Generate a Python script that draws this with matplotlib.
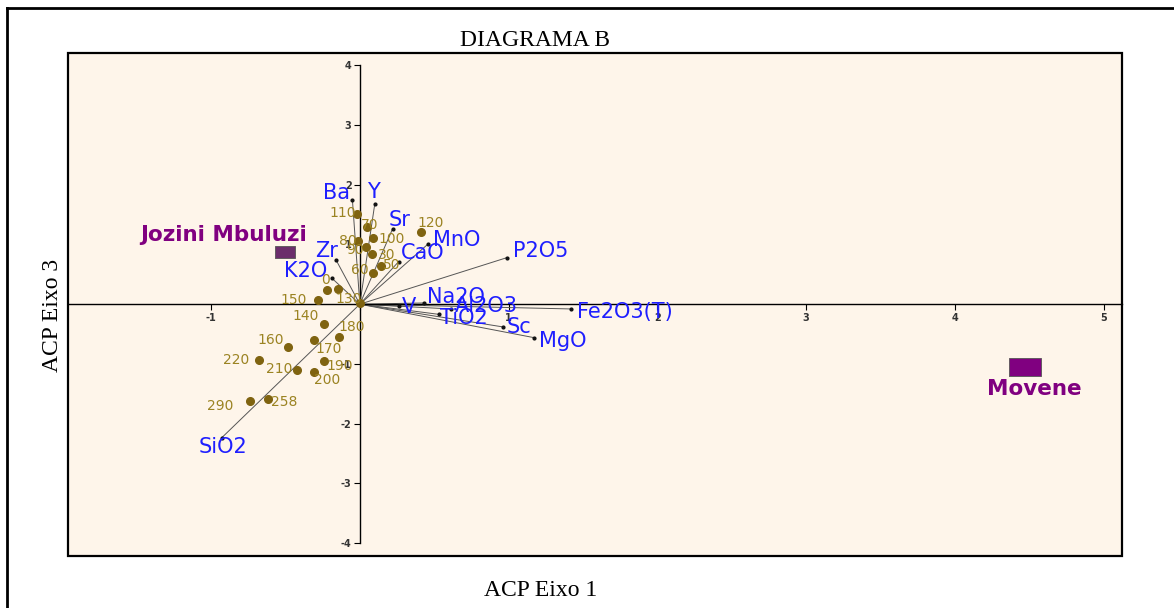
#! /usr/bin/env python
import matplotlib
matplotlib.use("Agg")
import matplotlib.pyplot as plt
from matplotlib.lines import Line2D
from matplotlib.patches import Rectangle
from matplotlib.ticker import FuncFormatter

# samples (PCA scores)
sample_names = ["110", "70", "100", "80", "90", "30", "50", "60", "120", "0", "",
                "150", "130", "140", "180", "160", "170", "220", "190", "210",
                "200", "290", "258"]
sample_x = [-0.02, 0.05, 0.09, -0.01, 0.04, 0.08, 0.14, 0.09, 0.41, -0.22, -0.15,
            -0.28, 0.00, -0.24, -0.14, -0.48, -0.31, -0.68, -0.24, -0.42,
            -0.31, -0.74, -0.62]
sample_y = [1.51, 1.30, 1.11, 1.05, 0.96, 0.84, 0.64, 0.53, 1.21, 0.24, 0.26,
            0.07, 0.02, -0.33, -0.55, -0.71, -0.60, -0.93, -0.95, -1.10,
            -1.13, -1.62, -1.59]

# variables (loadings)
var_names = ["Ba", "Y", "Sr", "MnO", "CaO", "Zr", "K2O", "P2O5", "Na2O", "Al2O3",
             "Fe2O3(T)", "V", "TiO2", "Sc", "MgO", "SiO2"]
var_x = [-0.05, 0.10, 0.22, 0.46, 0.26, -0.16, -0.19, 0.99, 0.43, 0.61,
         1.42, 0.26, 0.53, 0.96, 1.17, -0.93]
var_y = [1.75, 1.67, 1.26, 1.01, 0.71, 0.74, 0.44, 0.78, 0.02, -0.08,
         -0.08, -0.03, -0.17, -0.38, -0.56, -2.24]

# group centroids
group_names = ["Jozini Mbuluzi", "Movene"]
group_x = [-0.50, 4.47]
group_y = [0.88, -1.05]

# label offsets in pixels (dx, dy)
sample_off = [(-14, 1), (2, 2), (18, -1), (-11, 0), (-11, -3), (15, -1), (11, 1),
              (-13, 3), (10, 9), (-2, 10), (0, 0), (-25, 0), (-11, 4), (-19, 8),
              (13, 10), (-18, 7), (15, -9), (-23, 0), (16, -5), (-18, 1),
              (13, -8), (-30, -5), (17, -3)]
var_off = [(-16, 7), (-1, 12), (7, 9), (28, 4), (24, 9), (-9, 9), (-26, 7),
           (34, 7), (32, 6), (36, 3), (54, -3), (10, -1), (25, -4), (16, 0),
           (29, -3), (1, -9)]
group_off = [(-62, 17), (10, -22)]
group_size = [14.5, 22.5]
group_color = ["#6b2d6b", "#800080"]

fig = plt.figure(figsize=(11.74, 6.08), dpi=100)
ax = fig.add_axes([68 / 1174, 1 - 556 / 608, (1122 - 68) / 1174, (556 - 53) / 608])
ax.set_facecolor("#fef5ea")
ax.set_xlim(-1.962, 5.124)
ax.set_ylim(-4.216, 4.205)

for s in ["top", "right"]:
    ax.spines[s].set_visible(False)
ax.spines["left"].set_position(("data", 0))
ax.spines["bottom"].set_position(("data", 0))
ax.spines["left"].set_bounds(-4, 4)
ax.spines["left"].set_linewidth(1.0)
ax.spines["bottom"].set_linewidth(1.0)
ax.set_xticks([-1, 0, 1, 2, 3, 4, 5])
ax.set_yticks([-4, -3, -2, -1, 0, 1, 2, 3, 4])
fmt = FuncFormatter(lambda v, p: "" if v == 0 else f"{v:g}")
ax.xaxis.set_major_formatter(fmt)
ax.yaxis.set_major_formatter(fmt)
ax.tick_params(direction="out", length=4, width=0.8, labelsize=7,
               labelcolor="#333333", pad=2)
for lab in ax.get_xticklabels() + ax.get_yticklabels():
    lab.set_fontweight("bold")

ax.add_patch(Rectangle((0, 0), 1, 1, transform=ax.transAxes, fill=False,
                       lw=1.6, ec="black", clip_on=False, zorder=10))

# vectors
for name, x, y, off in zip(var_names, var_x, var_y, var_off):
    ax.plot([0, x], [0, y], color="#555555", lw=0.7, zorder=2)
    ax.plot(x, y, "o", color="#111111", ms=2, zorder=3)
    ax.annotate(name, (x, y), xytext=off, textcoords="offset pixels",
                ha="center", va="center", color="#1e1eff", fontsize=15, zorder=5)

# samples
ax.plot(sample_x, sample_y, "o", color="#7f6310", ms=5.5, ls="none", zorder=4)
for name, x, y, off in zip(sample_names, sample_x, sample_y, sample_off):
    if name:
        ax.annotate(name, (x, y), xytext=off, textcoords="offset pixels",
                    ha="center", va="center", color="#9b8322", fontsize=10, zorder=5)

# group markers
rect = [(-1, -0.58), (1, -0.58), (1, 0.58), (-1, 0.58), (-1, -0.58)]
for name, x, y, off, sz, c in zip(group_names, group_x, group_y, group_off,
                                  group_size, group_color):
    ax.plot(x, y, marker=rect, ms=sz, color=c, mec="#555555", mew=0.6, zorder=6)
    ax.annotate(name, (x, y), xytext=off, textcoords="offset pixels",
                ha="center", va="center", color="#800080", fontsize=15.5,
                fontweight="bold", zorder=6)

serif = "Liberation Serif"
fig.text(535 / 1174, 1 - 40 / 608, "DIAGRAMA B", ha="center", va="center",
         fontsize=17, family=serif)
fig.text(541 / 1174, 1 - 590 / 608, "ACP Eixo 1", ha="center", va="center",
         fontsize=17, family=serif)
fig.text(52 / 1174, 1 - 315 / 608, "ACP Eixo 3", ha="center", va="center",
         rotation=90, fontsize=17, family=serif)

# outer frame (left and top only visible)
fig.add_artist(Line2D([7 / 1174, 7 / 1174], [0, 1 - 8 / 608], color="black", lw=2))
fig.add_artist(Line2D([7 / 1174, 1], [1 - 8 / 608, 1 - 8 / 608], color="black", lw=2))

fig.savefig("out.png", dpi=100)
